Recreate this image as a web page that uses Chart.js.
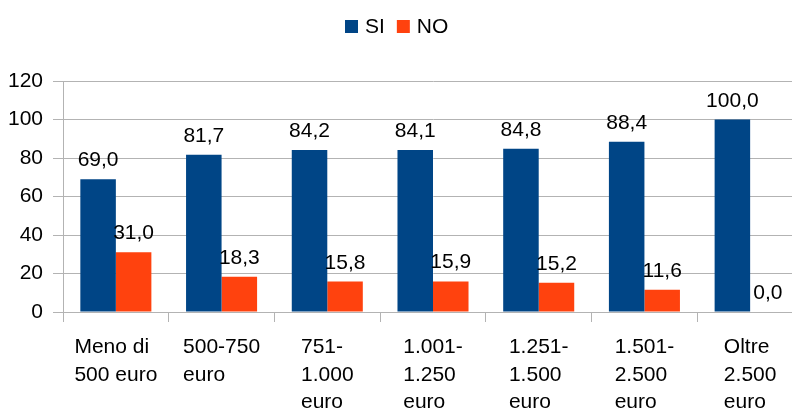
<!DOCTYPE html>
<html>
<head>
<meta charset="utf-8">
<script src="https://cdn.jsdelivr.net/npm/chart.js@4"></script>
<style>
  html, body { margin: 0; padding: 0; background: #fff; overflow: hidden; width: 792px; height: 410px; }
  canvas { display: block; }
</style>
</head>
<body>
<canvas id="chart" width="803" height="410"></canvas>
<script>
// Data
const categories = [
  ['Meno di', '500 euro'],
  ['500-750', 'euro'],
  ['751-', '1.000', 'euro'],
  ['1.001-', '1.250', 'euro'],
  ['1.251-', '1.500', 'euro'],
  ['1.501-', '2.500', 'euro'],
  ['Oltre', '2.500', 'euro']
];
const siValues = [69.0, 81.7, 84.2, 84.1, 84.8, 88.4, 100.0];
const noValues = [31.0, 18.3, 15.8, 15.9, 15.2, 11.6, 0.0];
const seriesNames = ['SI', 'NO'];
const yTicks = [0, 20, 40, 60, 80, 100, 120];

const FONT = '"Liberation Sans", Arial, sans-serif';
const FS = 21;
const GRID = '#b3b3b3';
const BLUE = '#004586';
const ORANGE = '#ff420e';

const fmt = (v) => v.toFixed(1).replace('.', ',');

// value labels above each bar
const valueLabels = {
  id: 'valueLabels',
  afterDatasetsDraw(chart) {
    const ctx = chart.ctx;
    ctx.save();
    ctx.font = FS + 'px ' + FONT;
    ctx.fillStyle = '#000';
    ctx.textAlign = 'center';
    ctx.textBaseline = 'alphabetic';
    chart.data.datasets.forEach((ds, di) => {
      chart.getDatasetMeta(di).data.forEach((el, i) => {
        ctx.fillText(fmt(ds.data[i]), el.x, el.y - 13);
      });
    });
    ctx.restore();
  }
};

// multi-line category labels: block centred, lines left aligned
const xLabels = {
  id: 'xLabels',
  afterDraw(chart) {
    const ctx = chart.ctx;
    const xs = chart.scales.x;
    ctx.save();
    ctx.font = FS + 'px ' + FONT;
    ctx.fillStyle = '#000';
    ctx.textAlign = 'left';
    ctx.textBaseline = 'alphabetic';
    categories.forEach((lines, i) => {
      const cx = xs.getPixelForValue(i);
      const w = Math.max(...lines.map(l => ctx.measureText(l).width));
      lines.forEach((line, j) => {
        ctx.fillText(line, cx - w / 2, 353 + j * 27.5);
      });
    });
    ctx.restore();
  }
};

// legend at the top, centred on the visible window
const topLegend = {
  id: 'topLegend',
  afterDraw(chart) {
    const ctx = chart.ctx;
    ctx.save();
    ctx.font = FS + 'px ' + FONT;
    ctx.textBaseline = 'middle';
    ctx.textAlign = 'left';
    const box = 13, gap = 7, spacing = 12;
    const colors = [BLUE, ORANGE];
    const widths = seriesNames.map(n => box + gap + ctx.measureText(n).width);
    const total = widths.reduce((a, b) => a + b, 0) + spacing * (seriesNames.length - 1);
    let x = Math.round(397 - total / 2);
    const cy = 26.5;
    seriesNames.forEach((n, i) => {
      ctx.fillStyle = colors[i];
      ctx.fillRect(x, cy - box / 2, box, box);
      ctx.fillStyle = '#000';
      ctx.fillText(n, x + box + gap, cy + 1);
      x += widths[i] + spacing;
    });
    ctx.restore();
  }
};

new Chart(document.getElementById('chart'), {
  type: 'bar',
  data: {
    labels: categories.map(c => c.join(' ')),
    datasets: [
      { label: seriesNames[0], data: siValues, backgroundColor: BLUE },
      { label: seriesNames[1], data: noValues, backgroundColor: ORANGE }
    ]
  },
  options: {
    responsive: false,
    animation: false,
    devicePixelRatio: 1,
    layout: { padding: { top: 81, left: 0, right: 0, bottom: 0 } },
    datasets: { bar: { categoryPercentage: 0.672, barPercentage: 1.0 } },
    plugins: {
      legend: { display: false },
      tooltip: { enabled: false }
    },
    scales: {
      x: {
        grid: { color: GRID, lineWidth: 1, tickLength: 10, offset: true, drawOnChartArea: false },
        border: { color: GRID },
        ticks: { display: false },
        afterFit: (s) => { s.height = 98; }
      },
      y: {
        min: 0,
        max: 120,
        afterBuildTicks: (s) => { s.ticks = yTicks.map(v => ({ value: v })); },
        grid: { color: GRID, lineWidth: 1, tickLength: 10 },
        border: { color: GRID },
        ticks: {
          color: '#000',
          padding: 10,
          font: { family: FONT, size: FS }
        },
        afterFit: (s) => { s.width = 63; }
      }
    }
  },
  plugins: [valueLabels, xLabels, topLegend]
});
</script>
</body>
</html>
